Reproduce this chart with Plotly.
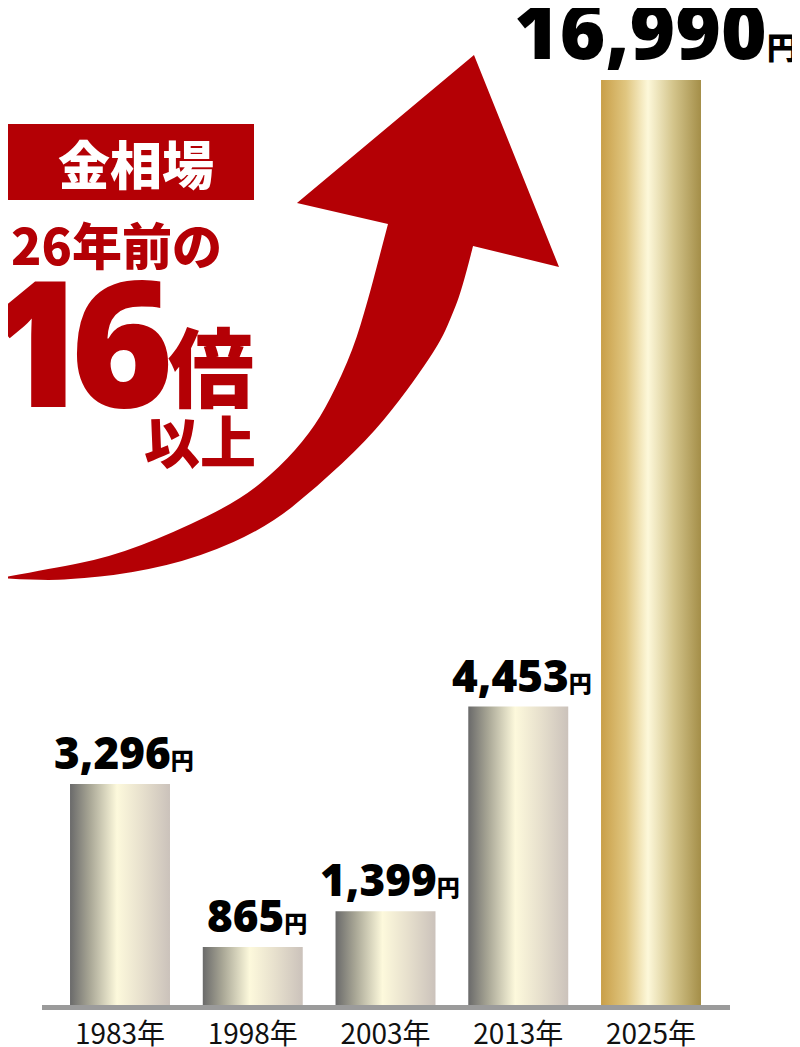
"""
金相場の推移 — グラデーション棒グラフ（2025年は枠外まで伸びるので上端で切る）
"""
import plotly.graph_objects as go

# データ
years = ["1983年", "1998年", "2003年", "2013年", "2025年"]
prices = [3296, 865, 1399, 4453, 16990]
y_top = 13800  # 縦軸の上限。これを超える棒は枠の上端で切れる

# 棒の色（左→右の横グラデーション）
silver = [[0, "#6a6a6a"], [0.2, "#a9a796"], [0.47, "#fdf9dc"],
          [0.72, "#e7e0cd"], [1, "#cbc2bb"]]
gold = [[0, "#c99f48"], [0.25, "#e0c680"], [0.47, "#fdf8da"],
        [0.72, "#d4c58c"], [1, "#a48e48"]]

RED = "#b40005"
# ページの body には 8px の余白が付くので、左上をその分ずらす
OFF = 8
W, H = 800 - OFF, 1047 - OFF
X0, X1, Y0, Y1 = 42, 730, 80, 1005   # 参照画像上のプロット枠（px）
ML, MR, MT, MB = X0 - OFF, W - (X1 - OFF), Y0 - OFF, H - (Y1 - OFF)
bar_w = 0.753


def px(x):
    return (x - X0) / (X1 - X0)


def py(y):
    return (Y1 - y) / (Y1 - Y0)


fig = go.Figure()

for i, (yr, v) in enumerate(zip(years, prices)):
    x0, x1 = i - bar_w / 2, i + bar_w / 2
    fig.add_trace(go.Scatter(
        x=[x0, x1, x1, x0, x0],
        y=[0, 0, v, v, 0],
        mode="lines",
        line=dict(width=0),
        fill="toself",
        fillgradient=dict(type="horizontal",
                          colorscale=gold if i == len(years) - 1 else silver),
        hoverinfo="skip",
        showlegend=False,
    ))
    big = v > y_top
    fs, fs_yen = (78, 31) if big else (44, 23)
    fig.add_annotation(
        x=i, y=1 if big else v, yref="paper" if big else "y",
        yanchor="bottom", yshift=-4 if big else 0,
        xshift=5 if big else 4,
        text=f"{v:,}<span style='font-size:{fs_yen}px'>円</span>",
        showarrow=False,
        font=dict(family="Noto Sans, Noto Sans CJK JP", size=fs,
                  color="black", weight=900),
    )

# 赤い矢印（装飾）。折れ線の中点を Q でつないで滑らかにする
upper = [(0, 578), (50, 569), (110, 557), (173, 533), (240, 500), (280, 467),
         (310, 433), (330, 400), (353, 350), (368, 300), (378, 262), (388, 224)]
head = [(297, 203), (474, 55), (559, 267), (473, 246)]
lower = [(473, 246), (462, 290), (450, 320), (441, 340), (425, 365), (400, 400),
         (367, 440), (317, 487), (267, 527), (200, 557), (133, 573),
         (67, 580), (30, 580), (0, 578)]


def smooth(pts):
    out = []
    for k in range(1, len(pts) - 1):
        (ax, ay), (bx, by) = pts[k], pts[k + 1]
        mx, my = (ax + bx) / 2, (ay + by) / 2
        if k == len(pts) - 2:
            mx, my = bx, by
        out.append(f"Q {px(ax):.4f},{py(ay):.4f} {px(mx):.4f},{py(my):.4f}")
    return " ".join(out)


path = f"M {px(upper[0][0]):.4f},{py(upper[0][1]):.4f} " + smooth(upper)
path += " " + " ".join(f"L {px(a):.4f},{py(b):.4f}" for a, b in head)
path += " " + smooth(lower) + " Z"
fig.add_shape(type="path", path=path, xref="paper", yref="paper",
              fillcolor=RED, line=dict(width=0), layer="above")

# 見出しボックス
fig.add_shape(type="rect", xref="paper", yref="paper",
              x0=px(8), x1=px(254), y0=py(200), y1=py(124),
              fillcolor=RED, line=dict(width=0))

cjk = "Noto Sans CJK JP"
labels = [
    ("金相場", 136, 162, 52, "white", cjk),
    ("26年前の", 116, 243, 50, RED, cjk),
    ("1", 36, 339, 175, RED, "Noto Sans, " + cjk),
    ("6", 122, 339, 175, RED, "Noto Sans, " + cjk),
    ("倍", 211, 363, 86, RED, cjk),
    ("以上", 200, 438, 56, RED, cjk),
]
for txt, cx, cy, size, col, fam in labels:
    fig.add_annotation(
        x=px(cx), y=py(cy), xref="paper", yref="paper",
        xanchor="center", yanchor="middle", text=txt, showarrow=False,
        font=dict(family=fam, size=size, color=col, weight=900),
    )

fig.update_layout(
    width=W, height=H,
    margin=dict(l=ML, r=MR, t=MT, b=MB, pad=0),
    plot_bgcolor="white", paper_bgcolor="white",
    showlegend=False,
)
fig.update_xaxes(
    range=[-0.5876, 4.595], tickvals=list(range(len(years))), ticktext=years,
    showgrid=False, zeroline=False, showline=True, linecolor="#9b9b9b",
    linewidth=5, ticks="", tickfont=dict(family=cjk, size=28, color="#111"),
    automargin=False, fixedrange=True,
)
fig.update_yaxes(range=[0, y_top], visible=False, automargin=False,
                 fixedrange=True)

fig.write_html("out.html")
